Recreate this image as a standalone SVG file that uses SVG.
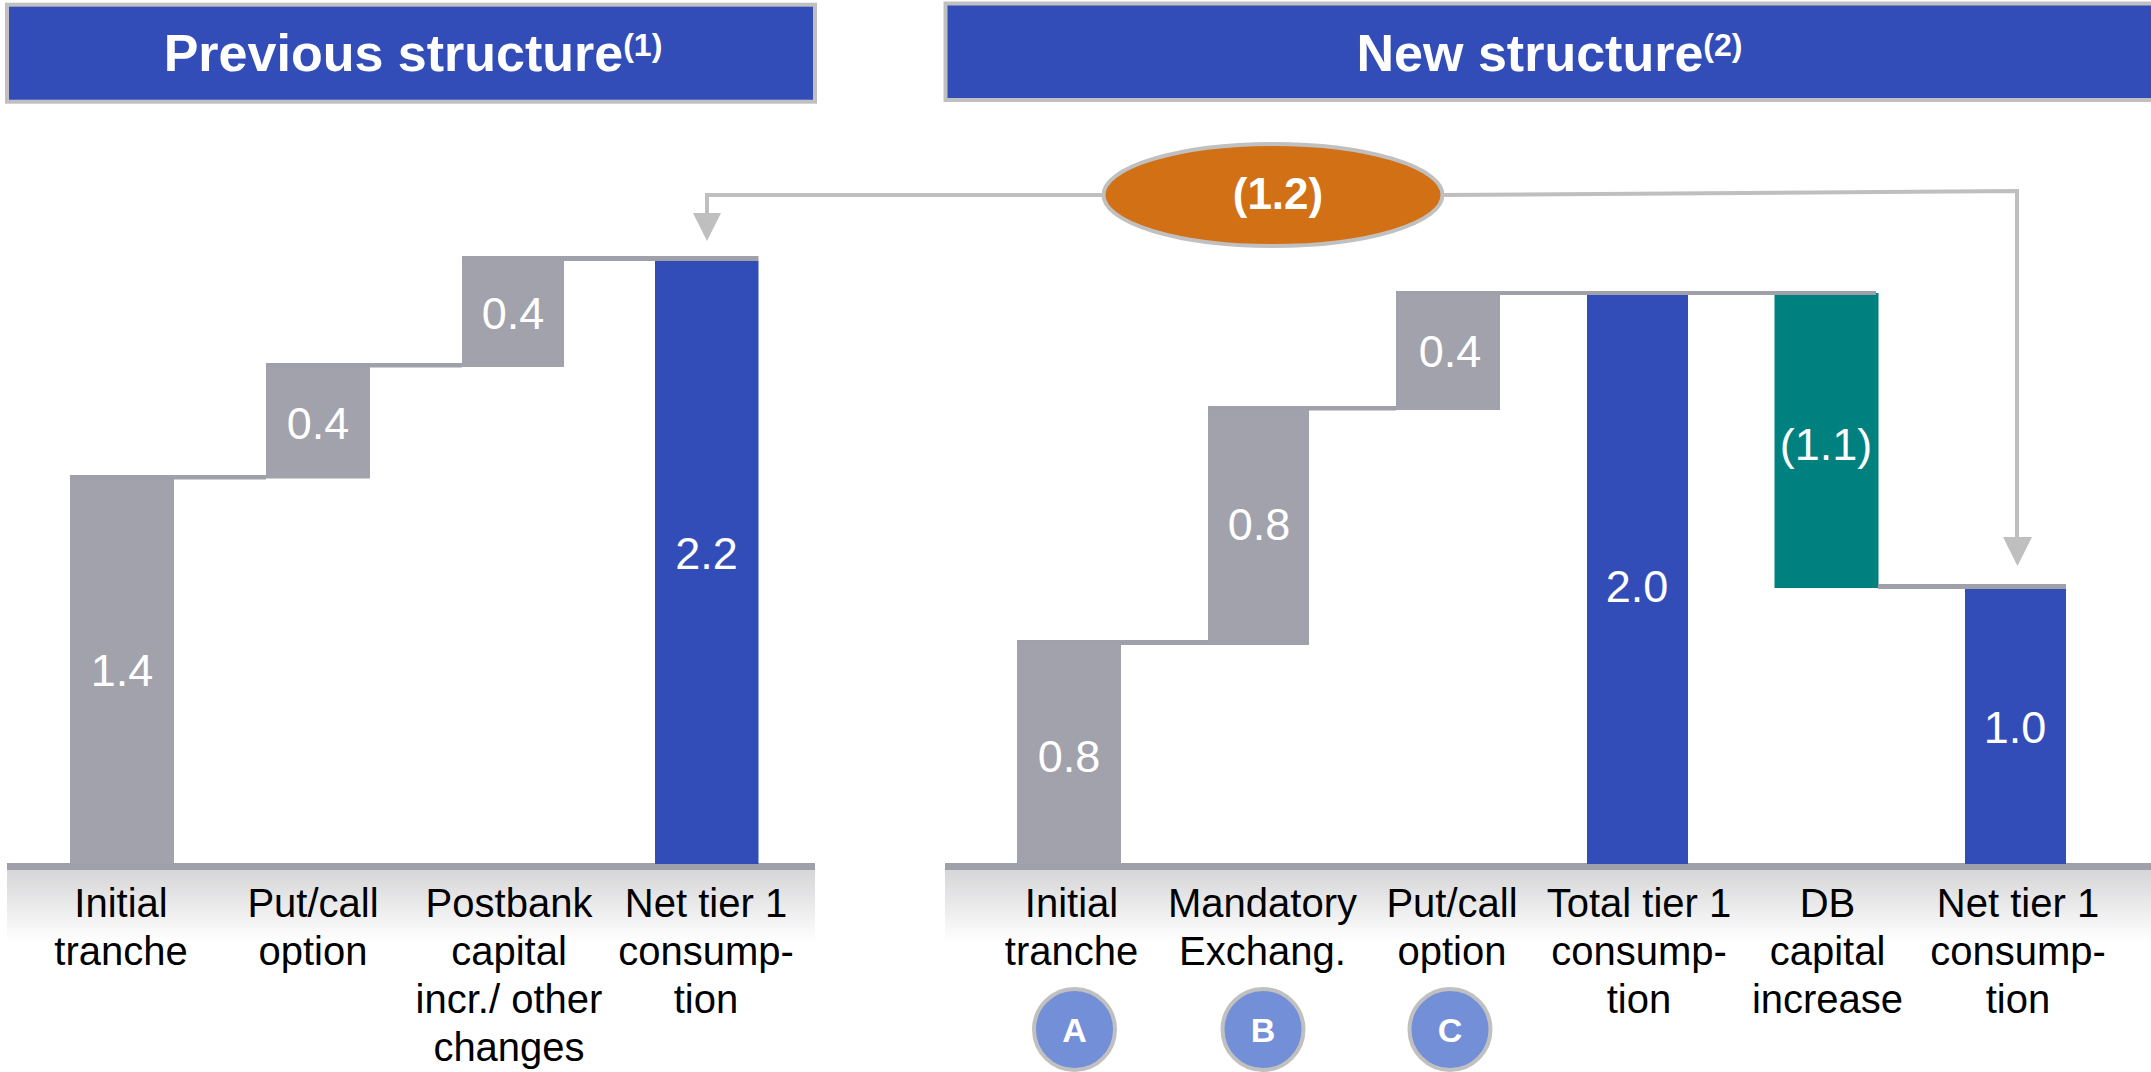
<svg xmlns="http://www.w3.org/2000/svg" width="2151" height="1072" viewBox="0 0 2151 1072">
<style>
.hdr{fill:#334DB8;stroke:#C0C0C0;stroke-width:4}
.ht{font-family:"Liberation Sans",Arial,sans-serif;font-weight:bold;font-size:52px;fill:#FFFFFF;text-anchor:middle}
.gray{fill:#A2A2AC}
.blue{fill:#334DB8}
.teal{fill:#00807F}
.step{fill:#A0A0AA}
.val{font-family:"Liberation Sans",Arial,sans-serif;font-size:45px;fill:#FFFFFF;text-anchor:middle}
.cat{font-family:"Liberation Sans",Arial,sans-serif;font-size:40px;fill:#000000;text-anchor:middle}
.conn{fill:none;stroke:#BFBFBF;stroke-width:4}
.head{fill:#BFBFBF}
.circ{fill:#728FD7;stroke:#C0C0C0;stroke-width:4}
.ct{font-family:"Liberation Sans",Arial,sans-serif;font-weight:bold;font-size:34px;fill:#FFFFFF;text-anchor:middle}
</style>
<defs>
<linearGradient id="band" x1="0" y1="0" x2="0" y2="1">
<stop offset="0" stop-color="#D6D6D8"/>
<stop offset="1" stop-color="#FFFFFF"/>
</linearGradient>
</defs>
<rect width="2151" height="1072" fill="#FFFFFF"/>

<g id="header-previous">
<rect class="hdr" x="7" y="4.7" width="808" height="97"/>
<text class="ht" x="413" y="71">Previous structure<tspan font-size="32" dy="-15">(1)</tspan></text>
</g>
<g id="header-new">
<rect class="hdr" x="945.5" y="3.5" width="1210" height="96.5"/>
<text class="ht" x="1549.5" y="70.5">New structure<tspan font-size="32" dy="-15">(2)</tspan></text>
</g>

<g id="axis-left">
<rect x="7" y="870" width="808" height="72" fill="url(#band)"/>
<rect x="7" y="863" width="808" height="7" class="step"/>
</g>
<g id="axis-right">
<rect x="945" y="870" width="1206" height="72" fill="url(#band)"/>
<rect x="945" y="863" width="1206" height="7" class="step"/>
</g>

<g id="prev-initial-tranche">
<rect class="gray" x="70" y="475" width="104" height="389"/>
<text class="val" x="122" y="686">1.4</text>
<text class="cat" x="121" y="917">Initial</text>
<text class="cat" x="121" y="965">tranche</text>
</g>
<g id="prev-put-call">
<rect class="gray" x="266" y="363" width="104" height="115.5"/>
<text class="val" x="318" y="438.5">0.4</text>
<text class="cat" x="313" y="917">Put/call</text>
<text class="cat" x="313" y="965">option</text>
</g>
<g id="prev-postbank">
<rect class="gray" x="462" y="256" width="102" height="111"/>
<text class="val" x="513" y="329">0.4</text>
<text class="cat" x="509" y="917">Postbank</text>
<text class="cat" x="509" y="965">capital</text>
<text class="cat" x="509" y="1013">incr./ other</text>
<text class="cat" x="509" y="1061">changes</text>
</g>
<g id="prev-net-tier1">
<rect class="blue" x="655" y="261" width="103.5" height="603"/>
<text class="val" x="706.5" y="568.5">2.2</text>
<text class="cat" x="706" y="917">Net tier 1</text>
<text class="cat" x="706" y="965">consump-</text>
<text class="cat" x="706" y="1013">tion</text>
</g>

<g id="new-initial-tranche">
<rect class="gray" x="1017" y="640" width="104" height="224"/>
<text class="val" x="1069" y="772">0.8</text>
<text class="cat" x="1071.5" y="917">Initial</text>
<text class="cat" x="1071.5" y="965">tranche</text>
</g>
<g id="new-mandatory">
<rect class="gray" x="1208" y="406" width="101" height="239"/>
<text class="val" x="1259" y="540">0.8</text>
<text class="cat" x="1262.5" y="917">Mandatory</text>
<text class="cat" x="1262.5" y="965">Exchang.</text>
</g>
<g id="new-put-call">
<rect class="gray" x="1396" y="291" width="104" height="119"/>
<text class="val" x="1450" y="366.5">0.4</text>
<text class="cat" x="1452" y="917">Put/call</text>
<text class="cat" x="1452" y="965">option</text>
</g>
<g id="new-total-tier1">
<rect class="blue" x="1587" y="295" width="101" height="569"/>
<text class="val" x="1637" y="601.5">2.0</text>
<text class="cat" x="1639" y="917">Total tier 1</text>
<text class="cat" x="1639" y="965">consump-</text>
<text class="cat" x="1639" y="1013">tion</text>
</g>
<g id="new-db-capital">
<rect class="teal" x="1774.5" y="293" width="104" height="295"/>
<text class="val" x="1826" y="460">(1.1)</text>
<text class="cat" x="1827.5" y="917">DB</text>
<text class="cat" x="1827.5" y="965">capital</text>
<text class="cat" x="1827.5" y="1013">increase</text>
</g>
<g id="new-net-tier1">
<rect class="blue" x="1965" y="589" width="101" height="275"/>
<text class="val" x="2015" y="743">1.0</text>
<text class="cat" x="2018" y="917">Net tier 1</text>
<text class="cat" x="2018" y="965">consump-</text>
<text class="cat" x="2018" y="1013">tion</text>
</g>

<g id="step-lines">
<rect class="step" x="70" y="475" width="196" height="4.5"/>
<rect class="step" x="266" y="363" width="196" height="4.5"/>
<rect class="step" x="462" y="256" width="296.5" height="5"/>
<rect class="step" x="1017" y="640" width="191" height="5"/>
<rect class="step" x="1208" y="406" width="188" height="4.5"/>
<rect class="step" x="1396" y="291" width="480" height="4"/>
<rect class="step" x="1878" y="584" width="188" height="5"/>
</g>

<g id="marker-a">
<circle class="circ" cx="1074.5" cy="1029.5" r="40.5"/>
<text class="ct" x="1074.5" y="1042">A</text>
</g>
<g id="marker-b">
<circle class="circ" cx="1263" cy="1029.5" r="40.5"/>
<text class="ct" x="1263" y="1042">B</text>
</g>
<g id="marker-c">
<circle class="circ" cx="1450" cy="1029.5" r="40.5"/>
<text class="ct" x="1450" y="1042">C</text>
</g>

<g id="connectors">
<polyline class="conn" points="1102,195 707,195 707,214"/>
<polygon class="head" points="693,213 721,213 707,241"/>
<polyline class="conn" points="1444,195 2017,191 2017,538"/>
<polygon class="head" points="2003,537 2032,537 2017.5,566"/>
</g>

<g id="difference-oval">
<ellipse cx="1273" cy="195" rx="169.5" ry="51" fill="#D27015" stroke="#C0C0C0" stroke-width="4"/>
<text x="1278" y="208.5" font-family="Liberation Sans, Arial, sans-serif" font-weight="bold" font-size="44" fill="#FFFFFF" text-anchor="middle">(1.2)</text>
</g>
</svg>
